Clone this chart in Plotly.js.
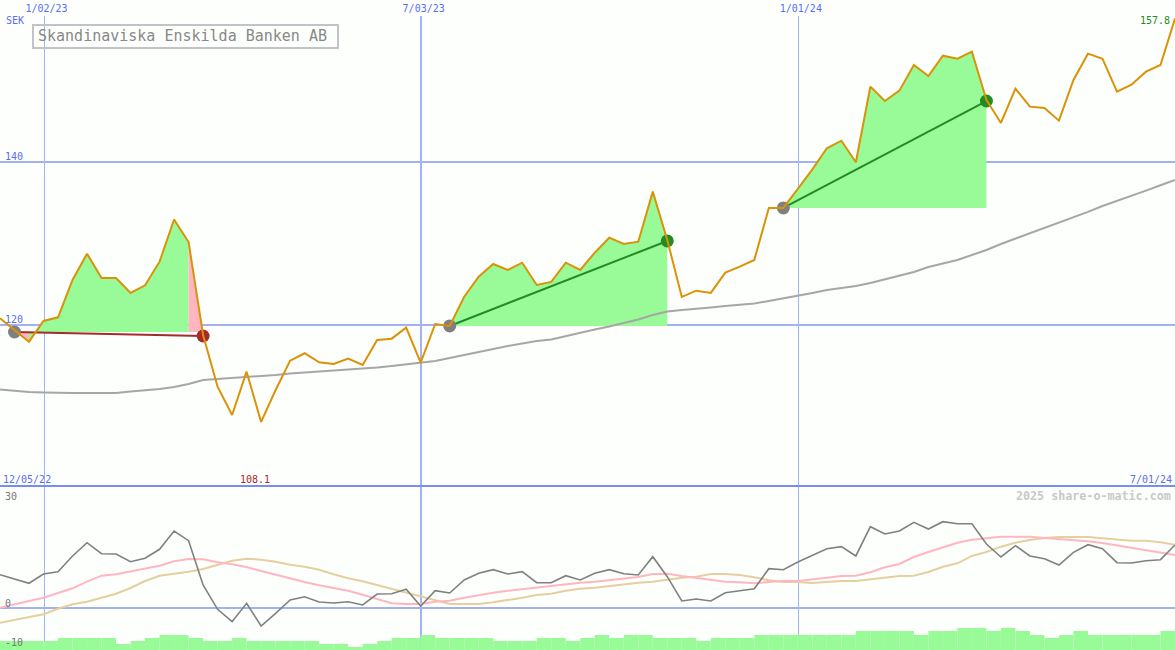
<!DOCTYPE html>
<html>
<head>
<meta charset="utf-8">
<title>Skandinaviska Enskilda Banken AB</title>
<script src="https://cdn.plot.ly/plotly-3.0.1.min.js"></script>
<style>
  html, body { margin: 0; padding: 0; background: #fdfffc; overflow: hidden; }
  #plot { width: 1175px; height: 650px; }
</style>
</head>
<body>
<div id="plot"></div>
<script>
// weekly closes, 82 weeks from 12/05/22 to 7/01/24
const price = [
  120.82, 119.39, 117.95, 120.49, 120.94, 125.52, 128.75, 125.77, 125.77, 123.93,
  124.87, 127.77, 132.94, 130.18, 118.77, 112.43, 108.96, 114.27, 108.10, 112.02,
  115.62, 116.53, 115.42, 115.21, 115.87, 115.09, 118.16, 118.32, 119.67, 115.37,
  120.12, 119.88, 123.47, 125.93, 127.48, 126.75, 127.64, 124.91, 125.28, 127.64,
  126.75, 128.87, 130.71, 129.94, 130.22, 136.36, 130.43, 123.44, 124.21, 123.93,
  126.42, 127.15, 127.98, 134.36, 134.36, 136.69, 139.10, 141.68, 142.61, 139.96,
  149.24, 147.48, 148.75, 151.90, 150.55, 153.04, 152.67, 153.53, 147.61, 144.79,
  148.99, 146.79, 146.63, 145.07, 150.06, 153.29, 152.67, 148.63, 149.48, 151.08,
  151.90, 157.60
];
const priceAvg = [
  112.09, 111.90, 111.78, 111.72, 111.66, 111.66, 111.66, 111.66, 111.66, 111.84,
  111.96, 112.15, 112.39, 112.76, 113.25, 113.37, 113.44, 113.62, 113.74, 113.87,
  114.05, 114.17, 114.29, 114.42, 114.54, 114.60, 114.79, 114.97, 115.15, 115.40,
  115.58, 115.95, 116.32, 116.69, 117.12, 117.42, 117.73, 118.04, 118.22, 118.65,
  119.08, 119.45, 119.82, 120.25, 120.67, 121.23, 121.66, 121.84, 121.96, 122.15,
  122.33, 122.45, 122.64, 122.94, 123.25, 123.56, 123.93, 124.29, 124.54, 124.79,
  125.15, 125.58, 126.01, 126.50, 127.12, 127.55, 127.98, 128.59, 129.20, 129.94,
  130.59, 131.29, 131.90, 132.52, 133.25, 133.87, 134.60, 135.21, 135.83, 136.48,
  137.14, 137.79
];
// lower panel: oscillator and its two averages
const osc = [
  9.38, 8.08, 6.96, 9.58, 10.23, 14.65, 18.39, 15.30, 15.21, 13.04,
  14.00, 16.54, 21.69, 18.96, 6.48, -0.37, -3.86, 1.32, -5.07, -1.49,
  2.25, 3.18, 1.69, 1.41, 1.77, 0.85, 3.94, 4.03, 5.27, 0.56,
  4.87, 4.23, 7.89, 9.77, 10.79, 9.58, 10.23, 7.13, 7.13, 9.10,
  7.89, 9.77, 10.79, 9.66, 9.30, 14.45, 8.82, 1.97, 2.54, 1.97,
  4.31, 4.87, 5.44, 11.07, 10.79, 12.96, 14.93, 16.70, 17.27, 14.65,
  22.90, 20.85, 21.69, 24.14, 22.25, 24.31, 23.75, 23.75, 18.03, 14.37,
  17.55, 14.65, 13.89, 12.11, 15.69, 17.83, 16.70, 12.76, 12.68, 13.32,
  13.61, 17.75
];
const oscFast = [
  0.08, 0.93, 1.97, 2.90, 4.14, 5.55, 7.41, 9.10, 9.49, 10.23,
  10.99, 11.92, 13.15, 13.80, 13.72, 12.87, 12.31, 11.55, 10.42, 9.38,
  8.25, 7.32, 6.39, 5.63, 4.87, 3.75, 2.54, 1.32, 1.13, 1.13,
  1.77, 2.06, 2.90, 3.66, 4.31, 4.87, 5.35, 5.83, 6.20, 6.76,
  7.13, 7.41, 7.89, 8.37, 8.73, 9.58, 9.66, 9.01, 8.54, 7.97,
  7.41, 7.24, 6.96, 7.32, 7.61, 7.61, 7.97, 8.54, 9.01, 9.10,
  10.06, 11.46, 12.39, 14.37, 15.77, 17.10, 18.39, 19.24, 19.72, 20.08,
  20.08, 20.08, 19.72, 19.44, 18.96, 18.79, 18.31, 17.66, 16.99, 16.34,
  15.77, 14.93
];
const oscSlow = [
  -4.14, -3.38, -2.73, -1.77, -0.20, 1.04, 1.77, 2.90, 4.03, 5.63,
  7.61, 9.10, 9.58, 10.23, 10.99, 12.11, 13.32, 13.89, 13.61, 13.04,
  12.20, 11.63, 10.79, 9.49, 8.37, 7.52, 6.48, 5.44, 4.31, 3.30,
  2.34, 1.13, 1.13, 1.13, 1.61, 2.17, 2.90, 3.66, 4.03, 4.87,
  5.44, 5.72, 6.20, 6.68, 7.13, 7.41, 8.08, 8.54, 8.82, 9.58,
  9.58, 9.30, 8.65, 7.80, 7.32, 7.32, 7.04, 7.41, 7.61, 7.61,
  8.08, 8.45, 9.01, 9.10, 10.14, 11.63, 12.59, 14.65, 15.77, 17.27,
  18.39, 19.15, 19.72, 20.00, 20.00, 20.00, 19.63, 19.24, 18.96, 18.96,
  18.51, 17.83
];
// green steps along the bottom, one per week interval
const strength = [
  9, 9, 9, 9, 12, 12, 12, 12, 6, 9,
  12, 15, 15, 12, 9, 9, 12, 9, 9, 9,
  9, 9, 6, 6, 3, 6, 9, 12, 12, 15,
  12, 12, 12, 12, 9, 9, 9, 12, 12, 9,
  12, 15, 12, 15, 15, 12, 12, 12, 9, 12,
  12, 12, 15, 15, 15, 15, 15, 15, 15, 19,
  19, 19, 19, 15, 19, 19, 22, 22, 19, 22,
  19, 15, 12, 15, 19, 15, 15, 15, 15, 15,
  19
];
const weeks = price.map((_, i) => i);

const tickWeeks = [3, 29, 55];
const tickLabels = ['1/02/23', '7/03/23', '1/01/24'];
// gridlines nudged onto whole pixels, July one is 2px in the reference
const gridWeeks = [3.07, 29.02, 55.05];
const gridWidths = [1, 2, 1];

// the three marked runs
const runStart = [1, 31, 54];
const runEnd = [14, 46, 68];
const runStartPrice = [119.14, 119.88, 134.36];
const runEndPrice = [118.65, 130.31, 147.48];
const runColor = ['#a52a2a', '#228b22', '#228b22'];

const GREEN = '#98fb98';
const PINK = '#ffb6c1';
const BLUE = '#5a6ef0';
const GRID = '#a3b1f2';
const MONO = '"DejaVu Sans Mono", monospace';

// area between the price and the level it started at
function runArea(from, to, base, color) {
  const xs = weeks.slice(from, to + 1);
  const ys = price.slice(from, to + 1);
  return {
    x: xs.concat(xs.slice().reverse()),
    y: ys.concat(ys.map(() => base)),
    mode: 'none', fill: 'toself', fillcolor: color,
    hoverinfo: 'skip', showlegend: false
  };
}

function line(y, color, width, yaxis) {
  return {
    x: weeks, y: y, mode: 'lines', line: { color: color, width: width },
    xaxis: yaxis === 'y' ? 'x' : 'x2', yaxis: yaxis,
    hoverinfo: 'skip', showlegend: false
  };
}

const traces = [
  runArea(1, 2, runStartPrice[0], PINK),
  runArea(2, 13, runStartPrice[0], GREEN),
  runArea(13, 14, runStartPrice[0], PINK),
  runArea(31, 46, runStartPrice[1], GREEN),
  runArea(54, 68, runStartPrice[2], GREEN),
  line(priceAvg, '#a6a6a6', 2, 'y')
];

// straight line and dots of each run
runStart.forEach((s, k) => {
  traces.push({
    x: [s, runEnd[k]], y: [runStartPrice[k], runEndPrice[k]],
    mode: 'lines', line: { color: runColor[k], width: 2 },
    hoverinfo: 'skip', showlegend: false
  });
  traces.push({
    x: [s, runEnd[k]], y: [runStartPrice[k], runEndPrice[k]],
    mode: 'markers', marker: { size: 13, color: ['#808080', runColor[k]] },
    hoverinfo: 'skip', showlegend: false
  });
});

traces.push(line(price, '#da9208', 2, 'y'));
traces.push(line(oscSlow, '#e5cf9f', 2, 'y2'));
traces.push(line(oscFast, '#ffb6c1', 2, 'y2'));
traces.push(line(osc, '#808080', 1.6, 'y2'));
traces.push({
  type: 'bar', x: weeks.slice(0, strength.length), y: strength,
  width: 1, offset: 0,
  marker: { color: GREEN, line: { width: 0 } },
  xaxis: 'x2', yaxis: 'y3', hoverinfo: 'skip', showlegend: false
});

// page pixels to paper coordinates (plot starts 16px down)
function label(text, px, py, color, anchor, size, bold) {
  return {
    xref: 'paper', yref: 'paper',
    x: px / 1175, y: (650 - py) / 634,
    text: bold ? '<b>' + text + '</b>' : text,
    showarrow: false, xanchor: anchor, yanchor: 'middle',
    font: { family: MONO, size: size || 10, color: color },
    borderpad: 0
  };
}

// vertical gridlines in both panels
const gridShapes = [];
gridWeeks.forEach((w, k) => {
  [['x', 'y domain'], ['x2', 'y2 domain']].forEach(refs => {
    gridShapes.push({
      type: 'line', layer: 'below', xref: refs[0], yref: refs[1],
      x0: w, x1: w, y0: 0, y1: 1,
      line: { color: GRID, width: gridWidths[k] }
    });
  });
});

const layout = {
  width: 1175, height: 650,
  margin: { l: 0, r: 0, t: 16, b: 0 },
  paper_bgcolor: '#fdfffc', plot_bgcolor: '#fdfffc',
  showlegend: false,
  font: { family: MONO, size: 10 },
  xaxis: {
    domain: [0, 1], range: [0, 81], anchor: 'y', side: 'top',
    tickvals: tickWeeks, ticktext: tickLabels,
    tickfont: { family: MONO, size: 10, color: BLUE }, ticklen: 0,
    ticklabelshift: 3, ticklabelstandoff: 1,
    showgrid: false, zeroline: false, showline: false
  },
  yaxis: {
    domain: [163 / 634, 1], range: [100.12, 157.91], anchor: 'x',
    tickvals: [140, 120], ticktext: ['140', '120'],
    tickfont: { family: MONO, size: 10, color: BLUE }, ticklen: 0,
    ticklabelposition: 'inside', ticklabelshift: -5, ticklabelstandoff: 2,
    showgrid: true, gridcolor: GRID, gridwidth: 2, zeroline: false, showline: false
  },
  xaxis2: {
    domain: [0, 1], range: [0, 81], anchor: 'y2', side: 'top', matches: 'x',
    tickvals: tickWeeks, showticklabels: false, ticklen: 0,
    showgrid: false, zeroline: false,
    showline: true, linecolor: '#7b8cf0', linewidth: 2
  },
  yaxis2: {
    domain: [0, 163 / 634], range: [-11.83, 34.08], anchor: 'x2',
    // -10 is printed lower than the 30 to 0 spacing would put it
    tickvals: [30, 0, -11], ticktext: ['30', '0', '-10'],
    tickfont: { family: MONO, size: 10, color: '#777777' }, ticklen: 0,
    ticklabelposition: 'inside', ticklabelshift: -5, ticklabelstandoff: 2,
    showgrid: false, zeroline: true, zerolinecolor: GRID, zerolinewidth: 2, showline: false
  },
  yaxis3: {
    domain: [0, 163 / 634], range: [0, 163], overlaying: 'y2', anchor: 'x2',
    visible: false
  },
  shapes: gridShapes.concat([
    // title box
    { type: 'rect', xref: 'paper', yref: 'paper', x0: 33 / 1175, x1: 338 / 1175, y0: (650 - 48) / 634, y1: (650 - 25) / 634,
      line: { color: '#c4c2c8', width: 2 }, fillcolor: 'rgba(0,0,0,0)' }
  ]),
  annotations: [
    label('Skandinaviska Enskilda Banken AB', 37, 36, '#888888', 'left', 15),
    label('SEK', 5, 21, BLUE, 'left'),
    label('157.8', 1171, 21, '#228b22', 'right'),
    label('12/05/22', 2, 479, BLUE, 'left'),
    label('108.1', 255, 479, '#a52a2a', 'center'),
    label('7/01/24', 1173, 479, BLUE, 'right'),
    label('2025 share-o-matic.com', 1172, 496, '#c8c8c8', 'right', 11.7, true)
  ]
};

Plotly.newPlot('plot', traces, layout, { staticPlot: true, displayModeBar: false });
</script>
</body>
</html>
